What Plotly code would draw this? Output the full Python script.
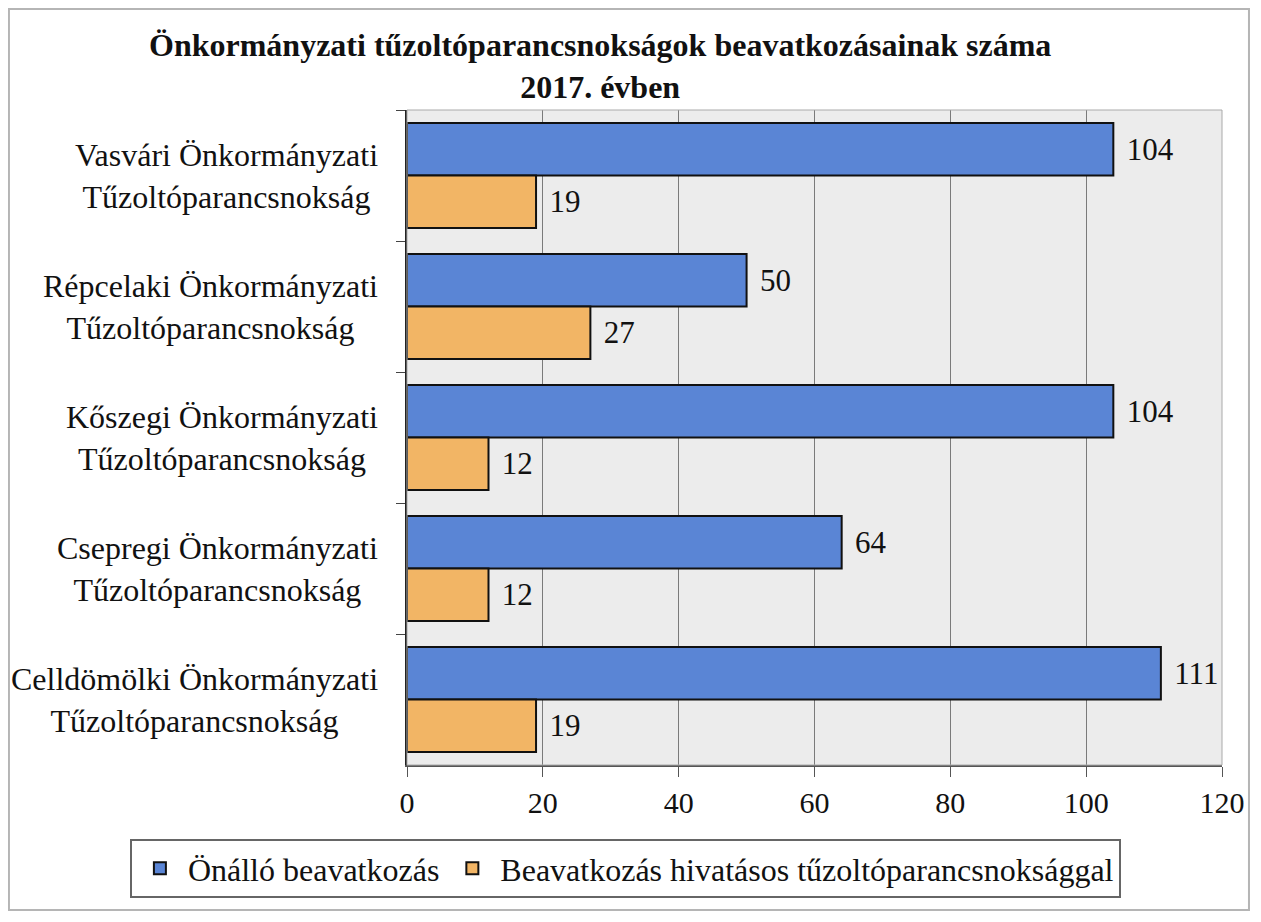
import plotly.graph_objects as go

categories = [
    "Vasvári Önkormányzati<br>Tűzoltóparancsnokság",
    "Répcelaki Önkormányzati<br>Tűzoltóparancsnokság",
    "Kőszegi Önkormányzati<br>Tűzoltóparancsnokság",
    "Csepregi Önkormányzati<br>Tűzoltóparancsnokság",
    "Celldömölki Önkormányzati<br>Tűzoltóparancsnokság",
]
onallo = [104, 50, 104, 64, 111]
hivatasos = [19, 27, 12, 12, 19]
series_names = ["Önálló beavatkozás", "Beavatkozás hivatásos tűzoltóparancsnoksággal"]
x_ticks = [0, 20, 40, 60, 80, 100, 120]
title_text = "<b>Önkormányzati tűzoltóparancsnokságok beavatkozásainak száma<br>2017. évben</b>"

FONT = "Liberation Serif, Times New Roman, serif"
PAD = "\u00a0\u200a"

fig = go.Figure()
fig.add_trace(go.Bar(
    y=categories, x=onallo, orientation="h", name=series_names[0],
    marker=dict(color="#5a85d5", line=dict(color="#111111", width=2)),
    text=onallo, texttemplate=PAD + "%{x}", textposition="outside",
    textfont=dict(family=FONT, size=31, color="#111"),
    cliponaxis=False,
))
fig.add_trace(go.Bar(
    y=categories, x=hivatasos, orientation="h", name=series_names[1],
    marker=dict(color="#f2b565", line=dict(color="#111111", width=2)),
    text=hivatasos, texttemplate=PAD + "%{x}", textposition="outside",
    textfont=dict(family=FONT, size=31, color="#111"),
    cliponaxis=False,
))

annotations = [
    dict(
        text=title_text,
        xref="paper", yref="paper", x=0.237, y=1.067,
        xanchor="center", yanchor="middle", showarrow=False,
        font=dict(family=FONT, size=32, color="#111"),
    )
]
for cat in categories:
    annotations.append(dict(
        text=cat, xref="paper", yref="y", x=-0.033, y=cat,
        xanchor="right", yanchor="middle", align="center", showarrow=False,
        font=dict(family=FONT, size=32, color="#111"),
    ))

fig.update_layout(
    width=1261, height=922,
    paper_bgcolor="white",
    plot_bgcolor="#ececec",
    barmode="group",
    bargap=0.2,
    bargroupgap=0.0,
    margin=dict(l=399, r=47, t=102, b=165),
    font=dict(family=FONT, size=31, color="#111"),
    showlegend=True,
    legend=dict(
        orientation="h",
        x=-0.340, xanchor="left",
        y=-0.113, yanchor="top",
        bordercolor="#666", borderwidth=2,
        bgcolor="white",
        font=dict(family=FONT, size=32, color="#111"),
        itemsizing="constant",
        itemwidth=46,
    ),
    xaxis=dict(
        range=[0, 120], tickvals=x_ticks,
        showgrid=True, gridcolor="#7a7a7a", gridwidth=1,
        showline=True, linecolor="#555", linewidth=2, mirror=False,
        ticks="outside", ticklen=10, tickcolor="#555",
        tickfont=dict(family=FONT, size=30, color="#111"),
        zeroline=False,
    ),
    yaxis=dict(
        autorange="reversed",
        showline=True, linecolor="#222", linewidth=2,
        ticks="outside", ticklen=9, tickcolor="#444",
        tickson="boundaries",
        showticklabels=False,
        showgrid=False,
    ),
    annotations=annotations,
    shapes=[
        dict(type="rect", xref="paper", yref="paper", x0=0, x1=1, y0=0, y1=1,
             line=dict(color="#aaa", width=1), fillcolor="rgba(0,0,0,0)", layer="above"),
        dict(type="rect", xref="paper", yref="paper",
             x0=-0.4884, x1=1.0331, y0=-0.2214, y1=1.1542,
             line=dict(color="#b5b5b5", width=2), fillcolor="rgba(0,0,0,0)", layer="below"),
    ],
)

fig.write_html("out.html")
